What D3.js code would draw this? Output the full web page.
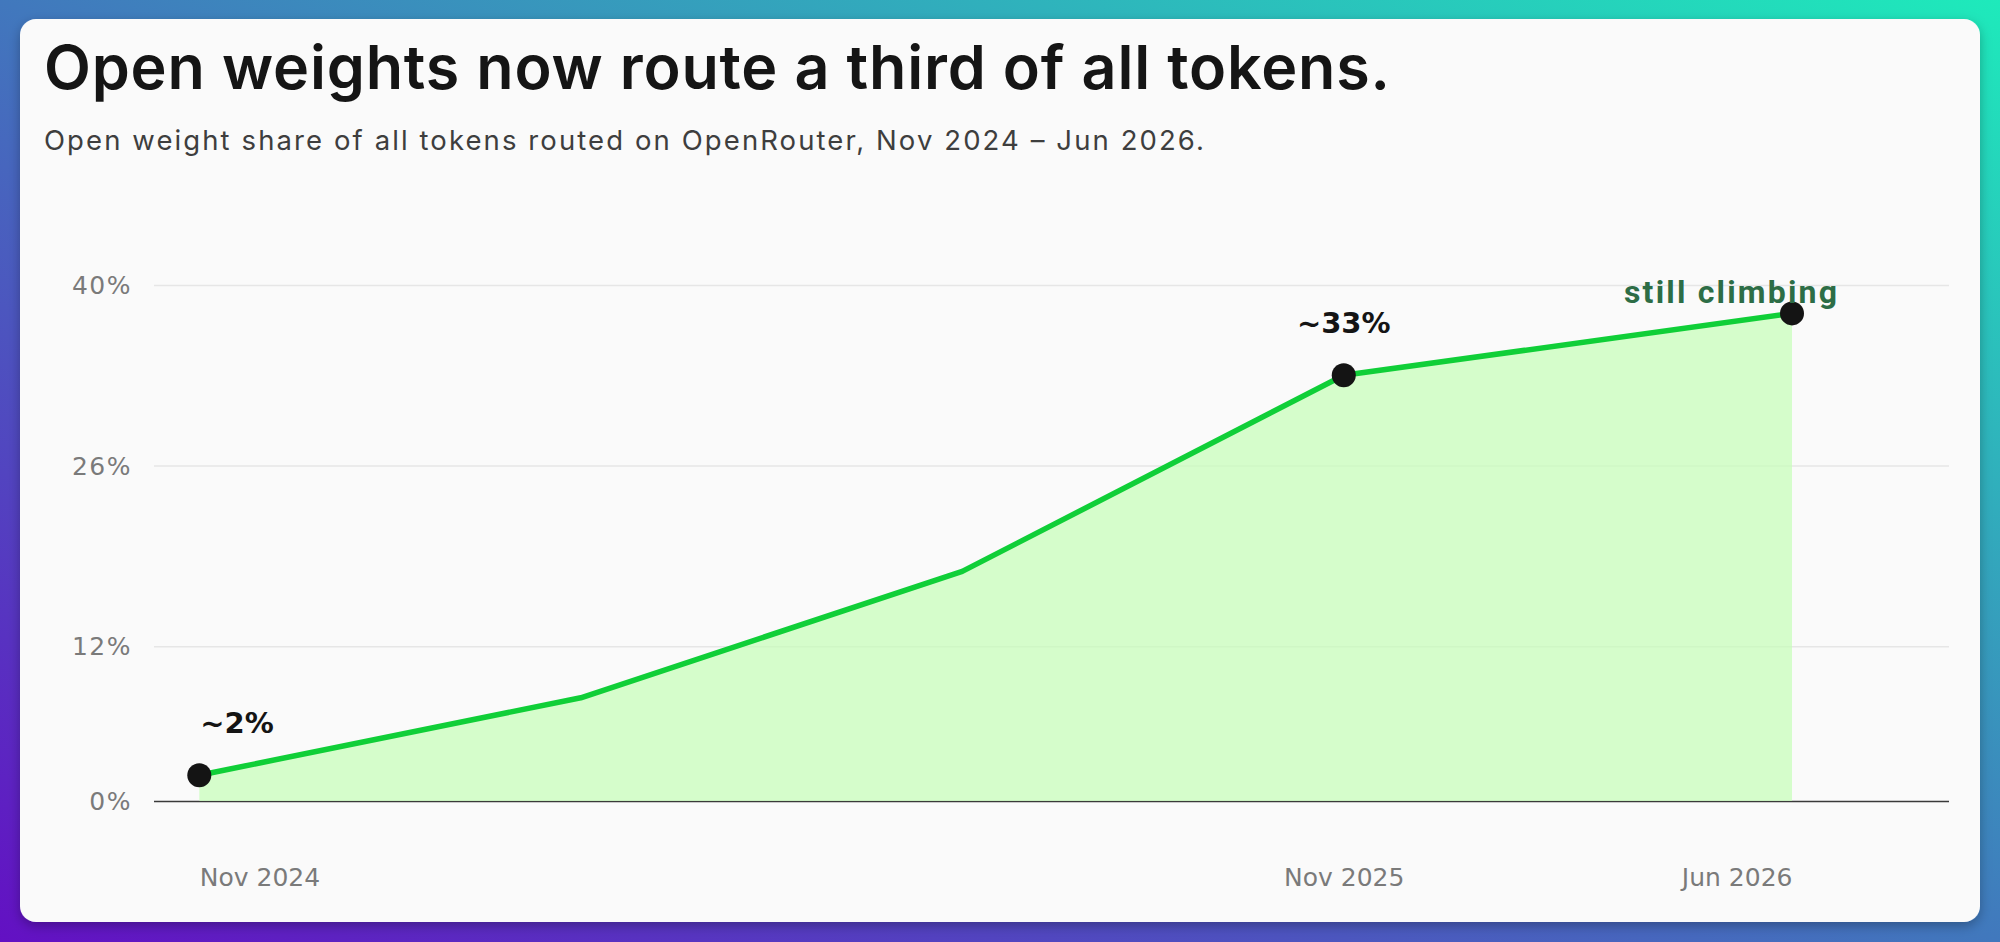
<!DOCTYPE html>
<html>
<head>
<meta charset="utf-8">
<script src="https://cdn.jsdelivr.net/npm/d3@7"></script>
<style>
  html, body { margin: 0; padding: 0; background: #fff; }
  svg { display: block; }
</style>
</head>
<body>
<svg id="chart" width="2000" height="942"></svg>
<script>
// ---- data ----
const monthOffsets = [0, 4, 8, 12, 16.7];          // months since Nov 2024
const shareValues  = [2, 8, 17.8, 33, 37.8];        // open-weight share, %
const markedIdx    = [0, 3, 4];                     // points drawn with dots
const yTickValues  = [0, 12, 26, 40];
const xTickPos     = [0, 12, 16.7];
const xTickLabels  = ["Nov 2024", "Nov 2025", "Jun 2026"];
const annotationText = ["~2%", "~33%", "still climbing"];
const titleText    = "Open weights now route a third of all tokens.";
const subtitleText = "Open weight share of all tokens routed on OpenRouter, Nov 2024 \u2013 Jun 2026.";

const data = monthOffsets.map((m, i) => ({ m, v: shareValues[i] }));

const svg = d3.select("#chart");
const W = 2000, H = 942;

// background gradient
const defs = svg.append("defs");
const grad = defs.append("linearGradient").attr("id", "bg")
  .attr("x1", 0).attr("y1", 1).attr("x2", 1).attr("y2", 0);
grad.append("stop").attr("offset", "0%").attr("stop-color", "#6310c3");
grad.append("stop").attr("offset", "50%").attr("stop-color", "#4178bd");
grad.append("stop").attr("offset", "100%").attr("stop-color", "#1eeabb");
const sh = defs.append("filter").attr("id", "shadow")
  .attr("x", "-5%").attr("y", "-5%").attr("width", "110%").attr("height", "115%");
sh.append("feDropShadow").attr("dx", 0).attr("dy", 4).attr("stdDeviation", 6)
  .attr("flood-color", "#000").attr("flood-opacity", 0.28);

svg.append("rect").attr("width", W).attr("height", H).attr("fill", "url(#bg)");
svg.append("rect").attr("x", 20).attr("y", 19).attr("width", 1960).attr("height", 903)
  .attr("rx", 16).attr("fill", "#fafafa").attr("filter", "url(#shadow)");

// helper: fit text to a width via letter-spacing
function fitWidth(sel, target) {
  const node = sel.node();
  const len = node.getComputedTextLength();
  const n = sel.text().length;
  sel.attr("letter-spacing", ((target - len) / (n - 1)).toFixed(3));
}

// title & subtitle
const title = svg.append("text").attr("x", 44).attr("y", 89)
  .attr("font-family", "Inter, 'Noto Sans', sans-serif").attr("font-weight", 600)
  .attr("font-size", 61).attr("fill", "#151515").text(titleText);
fitWidth(title, 1346);
const sub = svg.append("text").attr("x", 44).attr("y", 150)
  .attr("font-family", "Inter, 'Noto Sans', sans-serif").attr("font-weight", 400)
  .attr("font-size", 27.5).attr("fill", "#3e3e3e").text(subtitleText);
fitWidth(sub, 1160);

// scales
const plotLeft = 154, plotRight = 1949;
const x = d3.scaleLinear().domain([0, 16.7]).range([199.3, 1792]);
const y = d3.scaleLinear().domain([0, 40]).range([801, 285]);

// y axis with gridlines
const yAxis = svg.append("g").attr("transform", `translate(${plotLeft},0)`)
  .call(d3.axisLeft(y).tickValues(yTickValues).tickSize(-(plotRight - plotLeft))
    .tickPadding(22).tickFormat(d => d + "%"));
yAxis.select(".domain").remove();
yAxis.selectAll(".tick line").attr("stroke", d => d === 0 ? "#3a3a3a" : "#e6e6e6")
  .attr("stroke-width", d => d === 0 ? 1.6 : 1.5);
yAxis.selectAll(".tick text").attr("font-family", "'DejaVu Sans', sans-serif")
  .attr("font-size", 25).attr("fill", "#7a7a7a").attr("letter-spacing", 1.5).attr("dy", "0.34em");

// x axis labels
const xAxis = svg.append("g").attr("transform", `translate(0,${y(0)})`)
  .call(d3.axisBottom(x).tickValues(xTickPos).tickSize(0).tickPadding(67)
    .tickFormat((d, i) => xTickLabels[i]));
xAxis.select(".domain").remove();
xAxis.selectAll(".tick text").attr("font-family", "'DejaVu Sans', sans-serif")
  .attr("font-size", 25).attr("fill", "#7a7a7a")
  .attr("text-anchor", (d, i) => i === 0 ? "start" : (i === xTickPos.length - 1 ? "end" : "middle"));

// area + line
svg.append("path").datum(data)
  .attr("d", d3.area().x(d => x(d.m)).y0(y(0)).y1(d => y(d.v)))
  .attr("fill", "#c6feb9").attr("fill-opacity", 0.72);
svg.append("path").datum(data)
  .attr("d", d3.line().x(d => x(d.m)).y(d => y(d.v)))
  .attr("fill", "none").attr("stroke", "#10cf38").attr("stroke-width", 5.5)
  .attr("stroke-linejoin", "round");

// dots
svg.selectAll("circle.pt").data(markedIdx.map(i => data[i])).join("circle")
  .attr("class", "pt").attr("cx", d => x(d.m)).attr("cy", d => y(d.v))
  .attr("r", 12).attr("fill", "#141414");

// annotations
const p0 = data[0], p3 = data[3], p4 = data[4];
svg.append("text").attr("x", x(p0.m) + 1).attr("y", y(p0.v) - 42)
  .attr("font-family", "'DejaVu Sans', sans-serif").attr("font-weight", 700)
  .attr("font-size", 29).attr("fill", "#141414").text(annotationText[0]);
svg.append("text").attr("x", x(p3.m)).attr("y", y(p3.v) - 42)
  .attr("text-anchor", "middle")
  .attr("font-family", "'DejaVu Sans', sans-serif").attr("font-weight", 700)
  .attr("font-size", 29).attr("fill", "#141414").text(annotationText[1]);
const sc = svg.append("text").attr("x", x(p4.m) - 168).attr("y", y(p4.v) - 10)
  .attr("font-family", "Roboto, 'Noto Sans', sans-serif").attr("font-weight", 700)
  .attr("font-size", 32).attr("fill", "#2d6d46").text(annotationText[2]);
fitWidth(sc, 213);
</script>
</body>
</html>
